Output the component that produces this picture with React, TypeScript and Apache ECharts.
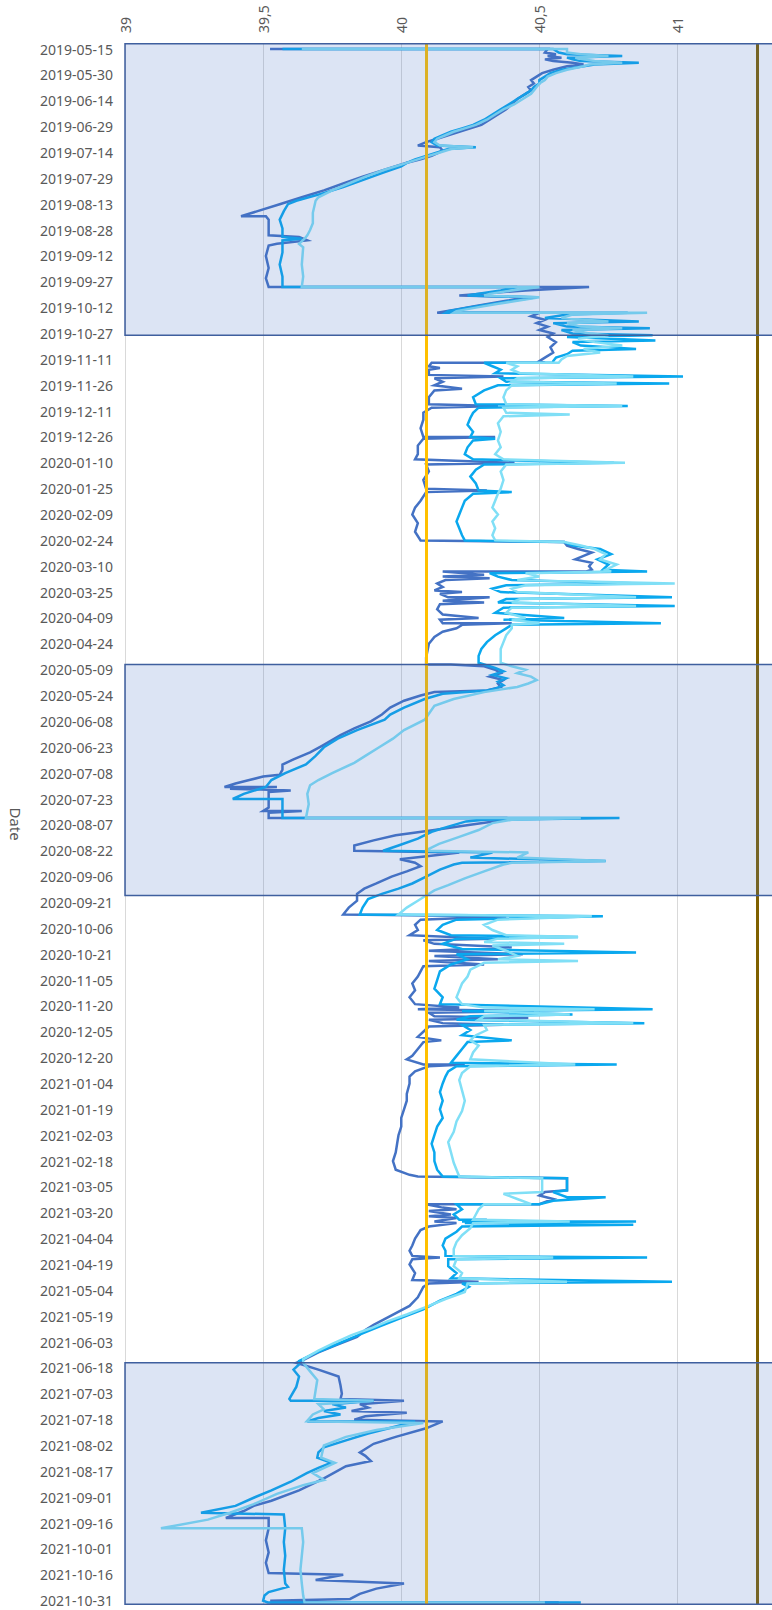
import React, { useEffect, useRef } from "react";
import * as echarts from "echarts";

// Daily categories, 2019-05-12 .. 2021-11-02
const START_UTC = Date.UTC(2019, 4, 12);
const DAY_COUNT = 906;
const categories: string[] = [];
for (let i = 0; i < DAY_COUNT; i++) {
  categories.push(new Date(START_UTC + i * 86400000).toISOString().slice(0, 10));
}
// Series points are [day, value]; day counts from 2019-05-15 (category index 3)
const DAY0_INDEX = 3;
const LABEL_STEP = 15;

const valueTicks = [39, 39.5, 40, 40.5, 41];

const series1: [number, number][] = [
  [0, 39.525], [0, 40.53], [2, 40.52], [3, 40.56], [4, 40.53], [5, 40.58], [6, 40.52], [7, 40.55], [8, 40.62], [9, 40.66],
  [10, 40.6], [12, 40.55], [14, 40.51], [16, 40.49], [18, 40.47], [20, 40.48], [22, 40.46], [24, 40.47], [26, 40.45], [29, 40.42],
  [32, 40.4], [35, 40.38], [38, 40.35], [41, 40.32], [44, 40.29], [46, 40.25], [48, 40.21], [50, 40.17], [52, 40.13], [54, 40.09],
  [56, 40.06], [57, 40.14], [59, 40.15], [62, 40.11], [64, 40.07], [66, 40.02], [70, 39.94], [74, 39.86], [78, 39.79], [82, 39.72],
  [86, 39.64], [90, 39.56], [94, 39.48], [97, 39.42], [97, 39.51], [99, 39.52], [104, 39.52], [108, 39.52], [109, 39.63], [111, 39.66],
  [113, 39.55], [114, 39.52], [120, 39.51], [127, 39.52], [133, 39.51], [138, 39.52], [138, 40.68], [140, 40.45], [143, 40.21], [144, 40.46],
  [146, 40.38], [149, 40.27], [151, 40.2], [153, 40.13], [153, 40.5], [155, 40.47], [157, 40.52], [159, 40.49], [161, 40.53], [163, 40.5],
  [165, 40.55], [167, 40.53], [170, 40.56], [173, 40.54], [176, 40.55], [179, 40.52], [181, 40.5], [182, 40.52], [182, 40.11], [184, 40.1],
  [185, 40.14], [186, 40.1], [189, 40.1], [190, 40.37], [191, 40.12], [193, 40.15], [195, 40.12], [197, 40.22], [198, 40.12], [202, 40.1],
  [206, 40.1], [207, 40.35], [208, 40.11], [211, 40.08], [215, 40.08], [220, 40.07], [225, 40.08], [225, 40.34], [226, 40.08], [230, 40.06],
  [235, 40.06], [238, 40.05], [240, 40.41], [241, 40.09], [245, 40.1], [250, 40.08], [255, 40.09], [256, 40.31], [257, 40.09], [262, 40.07],
  [266, 40.05], [270, 40.04], [275, 40.06], [280, 40.05], [285, 40.07], [286, 40.59], [288, 40.6], [290, 40.64], [292, 40.69], [294, 40.66],
  [296, 40.63], [298, 40.69], [300, 40.68], [302, 40.69], [303, 40.67], [303, 40.15], [305, 40.3], [306, 40.15], [307, 40.32], [308, 40.16],
  [310, 40.13], [312, 40.15], [314, 40.12], [315, 40.22], [316, 40.14], [318, 40.17], [318, 40.32], [320, 40.15], [321, 40.3], [322, 40.14],
  [325, 40.13], [328, 40.15], [330, 40.28], [331, 40.14], [333, 40.15], [333, 40.4], [334, 40.22], [336, 40.2], [338, 40.15], [341, 40.12],
  [345, 40.1], [349, 40.095], [353, 40.09], [357, 40.09], [357, 40.18], [358, 40.3], [360, 40.34], [362, 40.36], [364, 40.32], [366, 40.37],
  [368, 40.35], [370, 40.36], [372, 40.31], [373, 40.12], [375, 40.07], [378, 40.01], [382, 39.96], [386, 39.93], [390, 39.89], [394, 39.83],
  [398, 39.78], [404, 39.715], [408, 39.67], [412, 39.61], [415, 39.57], [418, 39.57], [421, 39.56], [422, 39.5], [424, 39.45], [426, 39.4],
  [428, 39.36], [428, 39.55], [429, 39.38], [430, 39.6], [431, 39.52], [436, 39.52], [440, 39.52], [442, 39.5], [442, 39.64], [443, 39.52],
  [446, 39.52], [446, 40.38], [447, 40.38], [450, 40.25], [453, 40.12], [456, 39.98], [459, 39.9], [462, 39.83], [465, 39.83], [466, 40.21],
  [468, 40.1], [470, 39.995], [472, 40.05], [474, 40.07], [477, 40.02], [480, 39.965], [484, 39.91], [487, 39.866], [490, 39.84], [494, 39.84],
  [498, 39.81], [502, 39.79], [503, 40.38], [505, 40.07], [508, 40.05], [511, 40.06], [514, 40.03], [516, 40.33], [517, 40.08], [519, 40.12],
  [521, 40.4], [523, 40.1], [525, 40.44], [526, 40.12], [528, 40.35], [529, 40.1], [531, 40.3], [532, 40.08], [535, 40.07], [538, 40.06],
  [542, 40.04], [546, 40.05], [550, 40.03], [554, 40.05], [556, 40.21], [557, 40.06], [558, 40.48], [559, 40.1], [561, 40.12], [562, 40.46],
  [563, 40.1], [565, 40.15], [566, 40.37], [567, 40.1], [570, 40.08], [573, 40.06], [575, 40.145], [576, 40.08], [580, 40.06], [584, 40.04],
  [586, 40.02], [589, 40.08], [589, 40.23], [590, 40.1], [593, 40.05], [596, 40.03], [600, 40.03], [606, 40.02], [610, 40.02], [615, 40.01],
  [620, 40.0], [625, 40.0], [630, 39.99], [635, 39.985], [640, 39.98], [645, 39.97], [650, 39.98], [653, 40.03], [654, 40.06], [655, 40.6],
  [658, 40.6], [662, 40.6], [663, 40.52], [665, 40.5], [667, 40.55], [670, 40.5], [670, 40.09], [672, 40.15], [673, 40.2], [674, 40.1],
  [676, 40.18], [677, 40.1], [678, 40.2], [680, 40.12], [681, 40.2], [683, 40.1], [685, 40.07], [690, 40.05], [694, 40.04], [697, 40.03],
  [700, 40.04], [701, 40.14], [702, 40.04], [705, 40.03], [710, 40.05], [714, 40.04], [715, 40.28], [716, 40.1], [718, 40.08], [724, 40.06],
  [729, 40.03], [735, 39.96], [740, 39.9], [743, 39.87], [747, 39.84], [752, 39.76], [756, 39.7], [760, 39.65], [762, 39.62], [766, 39.7],
  [770, 39.773], [775, 39.78], [780, 39.785], [783, 39.78], [784, 40.01], [786, 39.85], [788, 39.88], [790, 39.82], [791, 40.02], [793, 39.87],
  [795, 39.83], [796, 40.15], [800, 40.09], [805, 39.98], [809, 39.9], [814, 39.85], [816, 39.87], [819, 39.89], [822, 39.8], [829, 39.72],
  [836, 39.63], [842, 39.53], [845, 39.466], [848, 39.43], [852, 39.365], [852, 39.52], [858, 39.52], [865, 39.51], [872, 39.52], [878, 39.51],
  [884, 39.52], [885, 39.79], [888, 39.69], [890, 40.01], [893, 39.91], [896, 39.85], [899, 39.815], [900, 39.53], [901, 39.53], [901, 40.57],
];

const series2: [number, number][] = [
  [0, 39.57], [0, 40.55], [2, 40.57], [3, 40.6], [4, 40.8], [5, 40.6], [6, 40.62], [7, 40.65], [8, 40.86], [9, 40.7],
  [10, 40.66], [12, 40.58], [14, 40.54], [16, 40.52], [18, 40.5], [20, 40.5], [22, 40.48], [24, 40.47], [26, 40.45], [29, 40.42],
  [32, 40.39], [35, 40.36], [38, 40.33], [41, 40.3], [44, 40.26], [46, 40.22], [48, 40.18], [50, 40.15], [52, 40.12], [54, 40.11],
  [56, 40.13], [57, 40.27], [58, 40.17], [60, 40.13], [62, 40.09], [64, 40.05], [66, 40.02], [68, 40.0], [72, 39.93], [76, 39.86],
  [80, 39.79], [84, 39.71], [88, 39.62], [90, 39.59], [94, 39.575], [99, 39.56], [104, 39.57], [109, 39.57], [110, 39.64], [111, 39.57],
  [118, 39.57], [125, 39.56], [132, 39.57], [138, 39.57], [138, 40.42], [140, 40.36], [142, 40.28], [143, 40.24], [144, 40.49], [146, 40.4],
  [148, 40.32], [150, 40.24], [152, 40.17], [153, 40.16], [153, 40.82], [154, 40.6], [156, 40.52], [158, 40.86], [159, 40.55], [161, 40.6],
  [162, 40.9], [163, 40.58], [165, 40.62], [166, 40.91], [167, 40.6], [169, 40.92], [170, 40.62], [172, 40.65], [174, 40.85], [175, 40.62],
  [177, 40.6], [179, 40.56], [181, 40.55], [182, 40.55], [182, 40.3], [184, 40.33], [186, 40.36], [188, 40.34], [190, 41.02], [191, 40.36],
  [193, 40.38], [194, 40.97], [195, 40.35], [198, 40.3], [202, 40.26], [206, 40.27], [207, 40.82], [208, 40.28], [211, 40.26], [214, 40.25],
  [218, 40.24], [222, 40.26], [225, 40.25], [226, 40.34], [227, 40.26], [231, 40.24], [235, 40.23], [238, 40.26], [240, 40.77], [241, 40.3],
  [244, 40.27], [248, 40.25], [252, 40.27], [256, 40.28], [257, 40.4], [258, 40.26], [262, 40.23], [266, 40.22], [270, 40.21], [274, 40.2],
  [278, 40.21], [282, 40.22], [285, 40.23], [286, 40.59], [288, 40.62], [290, 40.72], [293, 40.76], [296, 40.71], [299, 40.75], [302, 40.73],
  [303, 40.89], [304, 40.32], [306, 40.35], [308, 40.4], [310, 40.87], [311, 40.38], [313, 40.33], [315, 40.36], [318, 40.98], [319, 40.38],
  [321, 40.35], [323, 40.99], [324, 40.37], [327, 40.34], [330, 40.59], [331, 40.37], [333, 40.94], [334, 40.4], [336, 40.38], [340, 40.34],
  [344, 40.31], [348, 40.29], [352, 40.28], [356, 40.28], [357, 40.3], [359, 40.34], [361, 40.37], [363, 40.33], [365, 40.38], [367, 40.35],
  [369, 40.37], [371, 40.34], [372, 40.31], [374, 40.15], [377, 40.085], [382, 40.01], [386, 39.96], [389, 39.94], [395, 39.84], [400, 39.77],
  [405, 39.72], [410, 39.69], [415, 39.655], [420, 39.58], [424, 39.53], [428, 39.51], [432, 39.43], [435, 39.39], [435, 39.57], [440, 39.57],
  [446, 39.57], [446, 40.79], [447, 40.3], [448, 40.235], [451, 40.17], [454, 40.11], [458, 40.06], [462, 39.99], [465, 39.934], [466, 40.33],
  [469, 40.25], [471, 40.74], [472, 40.22], [473, 40.19], [476, 40.14], [480, 40.09], [484, 40.04], [487, 39.99], [490, 39.93], [493, 39.88],
  [498, 39.86], [502, 39.85], [503, 40.73], [505, 40.2], [508, 40.15], [511, 40.13], [514, 40.18], [515, 40.64], [516, 40.2], [519, 40.15],
  [522, 40.22], [524, 40.85], [525, 40.2], [528, 40.24], [531, 40.18], [535, 40.14], [540, 40.13], [545, 40.12], [550, 40.15], [554, 40.14],
  [557, 40.91], [558, 40.22], [560, 40.62], [561, 40.25], [563, 40.2], [565, 40.88], [566, 40.22], [569, 40.25], [572, 40.22], [575, 40.4],
  [576, 40.24], [580, 40.22], [584, 40.2], [588, 40.18], [589, 40.78], [590, 40.2], [593, 40.17], [596, 40.16], [600, 40.15], [605, 40.14],
  [610, 40.15], [615, 40.14], [620, 40.15], [625, 40.13], [630, 40.12], [635, 40.11], [640, 40.12], [645, 40.12], [650, 40.13], [654, 40.15],
  [655, 40.6], [658, 40.6], [662, 40.6], [663, 40.55], [666, 40.6], [666, 40.74], [668, 40.55], [670, 40.5], [670, 40.2], [673, 40.22],
  [676, 40.19], [679, 40.21], [679, 40.31], [680, 40.22], [680, 40.85], [681, 40.23], [682, 40.84], [683, 40.22], [686, 40.2], [690, 40.16],
  [694, 40.15], [697, 40.16], [700, 40.16], [701, 40.89], [702, 40.17], [706, 40.17], [710, 40.2], [713, 40.18], [715, 40.98], [716, 40.22],
  [718, 40.245], [722, 40.2], [726, 40.14], [731, 40.08], [736, 40.0], [741, 39.92], [745, 39.86], [749, 39.8], [753, 39.74], [757, 39.68],
  [761, 39.63], [763, 39.63], [766, 39.61], [770, 39.63], [776, 39.62], [783, 39.595], [784, 39.6], [784, 39.9], [786, 39.75], [788, 39.8],
  [790, 39.72], [792, 39.78], [794, 39.7], [796, 39.66], [796, 40.05], [799, 39.98], [803, 39.88], [807, 39.8], [811, 39.72], [814, 39.7],
  [817, 39.696], [820, 39.747], [823, 39.7], [826, 39.658], [831, 39.6], [836, 39.53], [840, 39.47], [845, 39.4], [849, 39.275], [850, 39.575],
  [858, 39.58], [866, 39.575], [874, 39.58], [882, 39.575], [890, 39.58], [892, 39.59], [895, 39.52], [897, 39.505], [900, 39.5], [901, 39.517],
  [901, 40.65],
];

const series3: [number, number][] = [
  [0, 39.64], [0, 40.6], [2, 40.6], [3, 40.65], [4, 40.75], [5, 40.63], [6, 40.66], [7, 40.7], [8, 40.8], [9, 40.68],
  [10, 40.66], [12, 40.6], [14, 40.56], [16, 40.53], [18, 40.52], [20, 40.5], [22, 40.49], [24, 40.48], [26, 40.47], [29, 40.44],
  [32, 40.41], [35, 40.37], [38, 40.34], [41, 40.31], [44, 40.27], [46, 40.23], [48, 40.19], [50, 40.16], [52, 40.13], [54, 40.12],
  [56, 40.14], [57, 40.26], [58, 40.18], [60, 40.14], [62, 40.1], [64, 40.06], [66, 40.02], [70, 39.94], [74, 39.87], [78, 39.81],
  [82, 39.75], [86, 39.7], [88, 39.69], [95, 39.68], [101, 39.68], [105, 39.67], [108, 39.66], [110, 39.65], [113, 39.63], [115, 39.645],
  [125, 39.64], [132, 39.645], [138, 39.64], [138, 40.5], [140, 40.4], [142, 40.32], [143, 40.3], [144, 40.5], [146, 40.42], [148, 40.34],
  [150, 40.27], [152, 40.2], [153, 40.19], [153, 40.89], [154, 40.62], [156, 40.58], [158, 40.75], [159, 40.6], [161, 40.65], [162, 40.8],
  [163, 40.62], [165, 40.68], [166, 40.75], [168, 40.64], [170, 40.7], [172, 40.8], [174, 40.66], [176, 40.72], [178, 40.6], [180, 40.58],
  [182, 40.57], [182, 40.38], [184, 40.42], [186, 40.4], [188, 40.43], [190, 40.84], [191, 40.42], [193, 40.4], [194, 40.78], [195, 40.4],
  [198, 40.38], [202, 40.37], [206, 40.38], [207, 40.8], [208, 40.37], [211, 40.38], [212, 40.61], [213, 40.37], [217, 40.35], [222, 40.36],
  [227, 40.35], [231, 40.36], [235, 40.34], [238, 40.37], [240, 40.81], [241, 40.38], [245, 40.36], [250, 40.37], [255, 40.36], [258, 40.35],
  [262, 40.34], [266, 40.33], [270, 40.35], [274, 40.33], [278, 40.34], [282, 40.33], [285, 40.34], [286, 40.59], [288, 40.65], [290, 40.7],
  [293, 40.74], [296, 40.72], [299, 40.78], [302, 40.74], [303, 40.76], [304, 40.45], [306, 40.5], [308, 40.42], [310, 40.99], [311, 40.45],
  [313, 40.4], [315, 40.42], [318, 40.85], [319, 40.43], [321, 40.4], [323, 40.85], [324, 40.4], [327, 40.38], [330, 40.45], [331, 40.4],
  [333, 40.5], [334, 40.4], [336, 40.4], [340, 40.38], [344, 40.37], [348, 40.36], [352, 40.36], [356, 40.36], [358, 40.4], [360, 40.45],
  [362, 40.42], [364, 40.47], [366, 40.49], [368, 40.46], [370, 40.42], [373, 40.3], [377, 40.19], [381, 40.12], [389, 40.085], [395, 40.01],
  [400, 39.97], [405, 39.92], [410, 39.87], [414, 39.83], [420, 39.75], [424, 39.7], [427, 39.67], [432, 39.66], [438, 39.665], [442, 39.66],
  [446, 39.655], [446, 40.65], [447, 40.4], [449, 40.33], [453, 40.28], [457, 40.21], [461, 40.137], [465, 40.087], [466, 40.46], [469, 40.42],
  [471, 40.74], [472, 40.4], [473, 40.37], [477, 40.3], [481, 40.23], [485, 40.17], [488, 40.12], [491, 40.09], [494, 40.06], [498, 40.02],
  [502, 39.99], [503, 40.69], [505, 40.35], [508, 40.3], [511, 40.33], [514, 40.38], [515, 40.64], [516, 40.35], [518, 40.3], [519, 40.59],
  [520, 40.33], [523, 40.38], [526, 40.42], [528, 40.35], [529, 40.64], [530, 40.3], [534, 40.25], [538, 40.24], [542, 40.22], [546, 40.21],
  [550, 40.2], [554, 40.22], [556, 40.3], [557, 40.7], [558, 40.3], [560, 40.61], [561, 40.3], [563, 40.28], [565, 40.84], [566, 40.3],
  [569, 40.31], [572, 40.27], [575, 40.25], [578, 40.28], [582, 40.26], [586, 40.25], [589, 40.63], [590, 40.25], [594, 40.22], [598, 40.21],
  [604, 40.22], [610, 40.23], [616, 40.22], [622, 40.2], [628, 40.19], [634, 40.17], [640, 40.18], [646, 40.19], [650, 40.2], [654, 40.21],
  [655, 40.51], [658, 40.51], [662, 40.51], [663, 40.51], [664, 40.37], [667, 40.42], [670, 40.47], [670, 40.3], [673, 40.28], [676, 40.27],
  [679, 40.26], [680, 40.61], [681, 40.26], [684, 40.25], [688, 40.22], [692, 40.2], [696, 40.19], [700, 40.19], [701, 40.55], [702, 40.2],
  [706, 40.19], [710, 40.22], [713, 40.21], [715, 40.6], [716, 40.24], [721, 40.23], [725, 40.16], [729, 40.1], [734, 40.02], [738, 39.95],
  [742, 39.89], [746, 39.82], [751, 39.75], [755, 39.7], [760, 39.645], [762, 39.645], [767, 39.67], [772, 39.696], [778, 39.69], [783, 39.685],
  [784, 39.9], [786, 39.7], [789, 39.72], [792, 39.68], [796, 39.658], [797, 40.08], [801, 39.91], [805, 39.8], [810, 39.72], [817, 39.71],
  [820, 39.76], [826, 39.68], [830, 39.72], [833, 39.645], [838, 39.55], [844, 39.466], [849, 39.38], [853, 39.3], [858, 39.13], [858, 39.64],
  [866, 39.645], [874, 39.64], [882, 39.635], [890, 39.64], [897, 39.645], [901, 39.65], [901, 40.52],
];

const seriesNames = ["Série 1", "Série 2", "Série 3"];
const seriesColors = ["#4472C4", "#0AA8EE", "#80DFF6"];

// Vertical reference levels
const refLevels = [40.085, 41.29];
const refColors = ["#FFC000", "#7F6000"];

// Highlighted periods (first and last day of each)
const periodStarts = ["2019-05-12", "2020-05-06", "2021-06-15"];
const periodEnds = ["2019-10-28", "2020-09-17", "2021-11-02"];

const toSeriesData = (pts: [number, number][]) =>
  pts.map(([d, v]) => [v, categories[d + DAY0_INDEX]]);

const formatTick = (v: number) => {
  const hit = valueTicks.find((t) => Math.abs(t - v) < 1e-6);
  return hit === undefined ? "" : String(hit).replace(".", ",");
};

export default function App() {
  const ref = useRef<HTMLDivElement>(null);

  useEffect(() => {
    if (!ref.current) return;
    const chart = echarts.init(ref.current, undefined, { renderer: "svg" });
    const font = "'Noto Sans', sans-serif";
    const allSeries = [series1, series2, series3];

    chart.setOption({
      animation: false,
      backgroundColor: "#ffffff",
      textStyle: { fontFamily: font },
      grid: { left: 117, top: 43, width: 671, height: 1562 },
      xAxis: {
        type: "value",
        position: "top",
        min: 39,
        max: 41.4,
        interval: 0.5,
        axisLine: { show: false },
        axisTick: { show: false },
        splitLine: { show: true, lineStyle: { color: "#D9D9D9", width: 1 } },
        axisLabel: {
          rotate: -90,
          margin: 10,
          color: "#595959",
          fontSize: 14,
          fontFamily: font,
          formatter: formatTick,
        },
      },
      yAxis: {
        type: "category",
        data: categories,
        inverse: true,
        boundaryGap: true,
        name: "Date",
        nameLocation: "middle",
        nameRotate: -90,
        nameGap: 102,
        nameTextStyle: { color: "#595959", fontSize: 15, fontFamily: font },
        axisLine: { show: false },
        axisTick: { show: false },
        splitLine: { show: false },
        axisLabel: {
          color: "#595959",
          fontSize: 14,
          fontFamily: font,
          margin: 12,
          interval: (index: number) =>
            index >= DAY0_INDEX && (index - DAY0_INDEX) % LABEL_STEP === 0,
        },
      },
      series: [
        ...allSeries.map((pts, i) => ({
          name: seriesNames[i],
          type: "line",
          z: 2,
          data: toSeriesData(pts),
          showSymbol: false,
          symbol: "none",
          lineStyle: { color: seriesColors[i], width: 2.5, join: "miter" },
          itemStyle: { color: seriesColors[i] },
        })),
        {
          name: "levels",
          type: "line",
          z: 3,
          data: [],
          markLine: {
            z: 3,
            silent: true,
            symbol: "none",
            label: { show: false },
            data: refLevels.map((v, i) => ({
              xAxis: v,
              lineStyle: { color: refColors[i], width: 3, type: "solid" },
            })),
          },
        },
        {
          name: "periods",
          type: "line",
          z: 4,
          data: [],
          markArea: {
            z: 4,
            silent: true,
            itemStyle: {
              color: "rgba(68,114,196,0.19)",
              borderColor: "#3F5F9E",
              borderWidth: 1.5,
            },
            data: periodStarts.map((s, i) => [{ yAxis: s }, { yAxis: periodEnds[i] }]),
          },
        },
      ],
    });

    return () => chart.dispose();
  }, []);

  return (
    <div
      style={{
        position: "absolute",
        left: 0,
        top: 0,
        width: 772,
        height: 1610,
        overflow: "hidden",
        background: "#ffffff",
      }}
    >
      <div ref={ref} style={{ width: 800, height: 1610 }} />
    </div>
  );
}
